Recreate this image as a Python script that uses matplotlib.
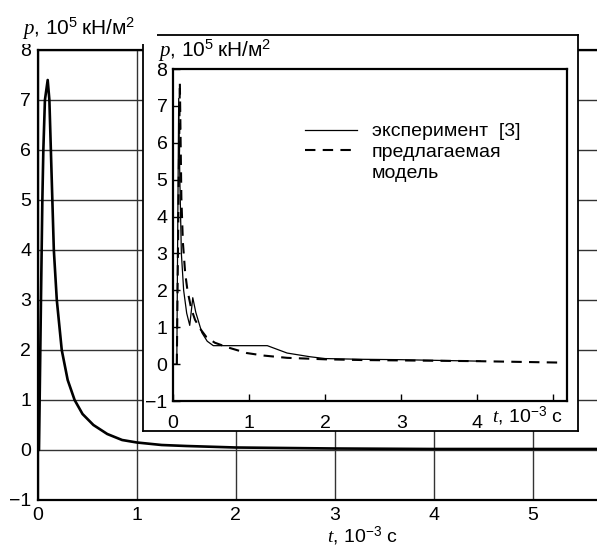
import matplotlib
matplotlib.use("Agg")
import matplotlib.pyplot as plt
from matplotlib.lines import Line2D
from matplotlib.patches import Rectangle

plt.rcParams['font.family'] = ['Liberation Sans', 'DejaVu Sans']
plt.rcParams['mathtext.fontset'] = 'custom'
plt.rcParams['mathtext.it'] = 'Liberation Serif:italic'
plt.rcParams['mathtext.rm'] = 'Liberation Sans'

# main curve
main_t = [0.0, 0.01, 0.02, 0.03, 0.037, 0.044, 0.054, 0.07, 0.098, 0.115, 0.13, 0.145,
          0.16, 0.19, 0.24, 0.3, 0.37, 0.45, 0.56, 0.7, 0.85, 1.0, 1.25, 1.5, 2.0,
          2.5, 3.0, 4.0, 5.0, 5.7]
main_p = [0, 0, 1.5, 3.0, 4.0, 5.0, 6.0, 7.0, 7.4, 7.0, 6.0, 5.0,
          4.0, 3.0, 2.0, 1.4, 1.0, 0.72, 0.5, 0.32, 0.2, 0.15, 0.1, 0.08, 0.05,
          0.04, 0.03, 0.02, 0.02, 0.02]

# inset: experiment [3]
exp_t = [0.0, 0.05, 0.06, 0.075, 0.09, 0.11, 0.14, 0.18, 0.22, 0.26, 0.3, 0.38,
         0.45, 0.53, 0.7, 1.0, 1.24, 1.5, 1.8, 2.0, 2.5, 3.0, 3.5, 4.04]
exp_p = [0, 0, 3.0, 7.2, 5.0, 3.0, 2.0, 1.38, 1.05, 1.8, 1.4, 0.85,
         0.62, 0.5, 0.5, 0.5, 0.5, 0.3, 0.2, 0.15, 0.13, 0.12, 0.1, 0.08]

# inset: proposed model
mod_t = [0.05, 0.07, 0.09, 0.11, 0.13, 0.16, 0.19, 0.24, 0.29, 0.36, 0.44, 0.55,
         0.71, 0.97, 1.2, 1.5, 2.0, 2.5, 3.0, 4.0, 5.13]
mod_p = [0, 4.0, 7.64, 4.5, 3.3, 2.47, 2.0, 1.5, 1.2, 0.95, 0.73, 0.58,
         0.46, 0.3, 0.23, 0.17, 0.13, 0.11, 0.1, 0.08, 0.04]

xticks_main = [0, 1, 2, 3, 4, 5]
yticks = [-1, 0, 1, 2, 3, 4, 5, 6, 7, 8]
ylabels = ['\u22121', '0', '1', '2', '3', '4', '5', '6', '7', '8']
xticks_inset = [0, 1, 2, 3, 4, 5]
xlabels_inset = ['0', '1', '2', '3', '4', '']

W, H = 597, 549
fig = plt.figure(figsize=(W / 100, H / 100), dpi=100)

def box(l, t, r, b):
    return [l / W, 1 - b / H, (r - l) / W, (b - t) / H]

fs = 14
plab = '$p$, 10$^5$\u2009кН/м$^2$'
tlab = '$t$, 10$^{-3}$ с'

# main axes
ax = fig.add_axes(box(38, 50, 597, 500))
ax.plot(main_t, main_p, color='black', lw=1.9)
ax.set_xlim(0, 5.65)
ax.set_ylim(-1, 8)
ax.set_xticks(xticks_main)
ax.set_yticks(yticks)
ax.set_yticklabels(ylabels)
ax.grid(True, color='#333333', lw=1.0)
ax.tick_params(length=0, labelsize=fs, pad=5)
ax.tick_params(axis='x', pad=5)
ax.spines['right'].set_visible(False)
for s in ['left', 'bottom', 'top']:
    ax.spines[s].set_linewidth(1.6)
fig.text(362 / W, 1 - 548 / H, tlab, fontsize=fs, ha='center', va='bottom')

# white patch behind the main y label (hides the frame corner)
fig.add_artist(Rectangle((15 / W, 1 - 44 / H), 142 / W, 32 / H, transform=fig.transFigure,
                         facecolor='white', edgecolor='none', zorder=4))
fig.text(22 / W, 1 - 35 / H, plab, fontsize=15, ha='left', va='baseline', zorder=5)

# inset frame
frame = fig.add_axes(box(143, 35, 578, 431))
frame.set_xticks([])
frame.set_yticks([])
frame.set_facecolor('white')
for s in frame.spines.values():
    s.set_linewidth(1.3)

# inset axes
ins = fig.add_axes(box(173, 69, 567, 401))
h1, = ins.plot(exp_t, exp_p, color='black', lw=0.9)
h2, = ins.plot(mod_t, mod_p, color='black', lw=1.5, ls=(0, (5, 3.5)))
h3 = Line2D([], [], color='none')
ins.set_xlim(0, 5.18)
ins.set_ylim(-1, 8)
ins.set_xticks(xticks_inset)
ins.set_xticklabels(xlabels_inset)
ins.set_yticks(yticks)
ins.set_yticklabels(ylabels)
ins.tick_params(direction='in', length=5, width=1.0, labelsize=fs, pad=4)
ins.tick_params(axis='x', pad=10)
for s in ins.spines.values():
    s.set_linewidth(1.6)
ins.text(4.2, -0.045, tlab, fontsize=fs, ha='left', va='center',
         transform=ins.get_xaxis_transform())
fig.text(158 / W, 1 - 57 / H, plab, fontsize=15, ha='left', va='baseline')
ins.legend([h1, h2, h3], ['эксперимент  [3]', 'предлагаемая', 'модель'],
           loc='upper left', bbox_to_anchor=(0.31, 0.867), frameon=False, fontsize=fs,
           handlelength=2.7, handletextpad=0.75, labelspacing=0.15, borderpad=0)

fig.savefig('out.png', dpi=100)
